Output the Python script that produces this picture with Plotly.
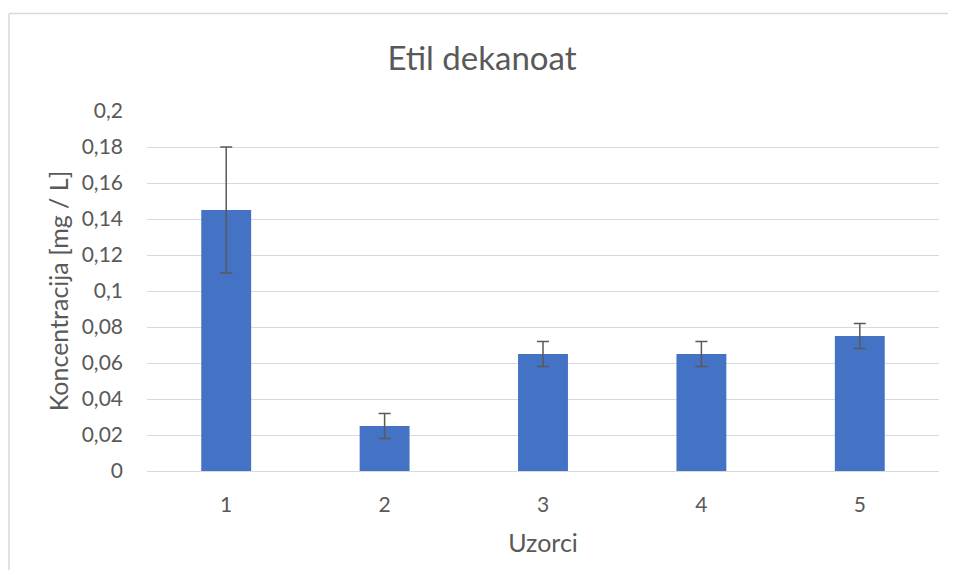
import plotly.graph_objects as go

categories = ["1", "2", "3", "4", "5"]
values = [0.145, 0.025, 0.065, 0.065, 0.075]
errors = [0.035, 0.007, 0.007, 0.007, 0.007]
y_ticks = [0, 0.02, 0.04, 0.06, 0.08, 0.1, 0.12, 0.14, 0.16, 0.18, 0.2]
y_tick_labels = ["0", "0,02", "0,04", "0,06", "0,08", "0,1", "0,12", "0,14", "0,16", "0,18", "0,2"]

FONT = "Lato"
TXT = "#595959"

fig = go.Figure()
fig.add_trace(go.Bar(
    x=categories, y=values,
    marker=dict(color="#4472C4", line=dict(width=0)),
    error_y=dict(type="data", array=errors, visible=True, color="#595959", thickness=1.5, width=6),
))

# page body has an 8px margin, so the figure is offset by 8px
W, H = 948, 562
L, R, T, B = 139, 17, 103, 99
pw, ph = W - L - R, H - T - B

frame_top = (H - B - 5.5) / ph
frame_left = (1 - L) / pw
frame = dict(color="#D9D9D9", width=1.5)

fig.update_layout(
    width=W, height=H,
    margin=dict(l=L, r=R, t=T, b=B),
    paper_bgcolor="white", plot_bgcolor="white",
    bargap=0.685,
    showlegend=False,
    font=dict(family=FONT, color=TXT, size=21),
    title=dict(text="Etil dekanoat", x=(W / 2 - L + 0) / pw, xref="paper", xanchor="center", y=1 - 50 / H, yanchor="middle",
               font=dict(family=FONT, size=33, color=TXT)),
    xaxis=dict(
        type="category", showgrid=False, showline=False, zeroline=False,
        ticks="", ticklabelstandoff=19,
        tickfont=dict(size=21, color=TXT, family=FONT),
        title=dict(text="Uzorci", font=dict(size=25, color=TXT, family=FONT), standoff=19),
    ),
    yaxis=dict(
        range=[0, 0.2], tickvals=y_ticks, ticktext=y_tick_labels,
        showgrid=True, gridcolor="#D9D9D9", gridwidth=1,
        zeroline=True, zerolinecolor="#D9D9D9", zerolinewidth=1,
        showline=False, ticks="", ticklabelstandoff=23,
        tickfont=dict(size=21, color=TXT, family=FONT),
        title=dict(text="Koncentracija [mg / L]", font=dict(size=25, color=TXT, family=FONT), standoff=5),
    ),
    shapes=[
        dict(type="line", xref="paper", yref="paper",
             x0=frame_left, x1=(W - L) / pw, y0=frame_top, y1=frame_top, line=frame, layer="below"),
        dict(type="line", xref="paper", yref="paper",
             x0=frame_left, x1=frame_left, y0=frame_top, y1=-B / ph, line=frame, layer="below"),
    ],
)

fig.write_html("out.html")
